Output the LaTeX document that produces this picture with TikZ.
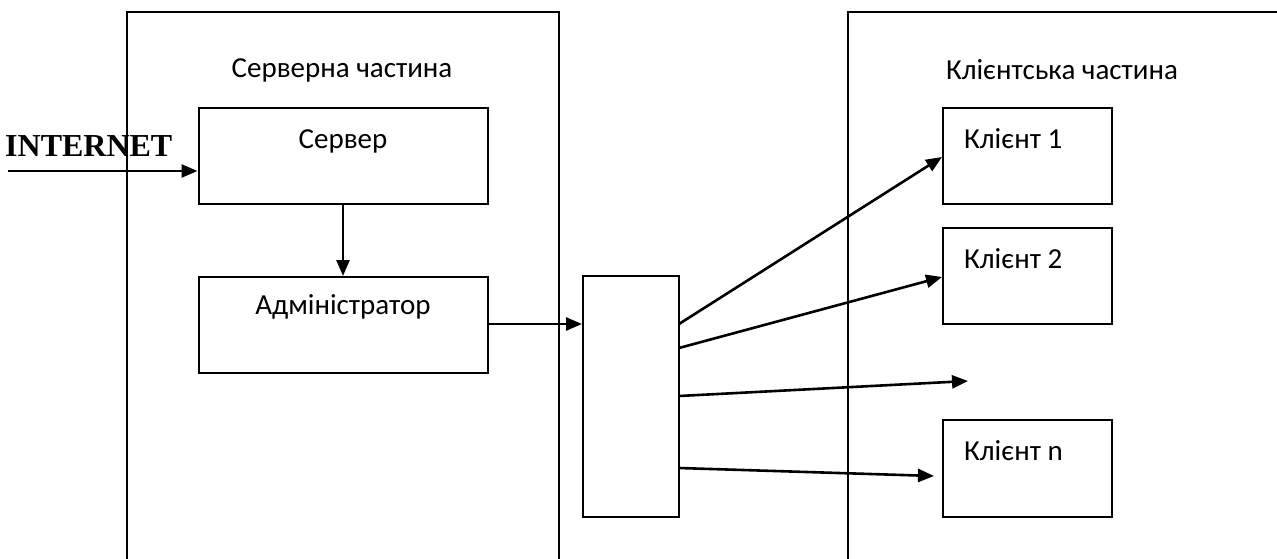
\documentclass[tikz,border=0pt]{standalone}
\usepackage{fontspec}
\setmainfont{Carlito}
\newfontfamily\timesfont{Liberation Serif}
\usetikzlibrary{arrows.meta}
\begin{document}
\begin{tikzpicture}[x=1pt,y=-1pt,
  frame/.style={line width=2pt},
  box/.style={draw,line width=2pt,rectangle,inner sep=0pt},
  lbl/.style={font=\fontsize{29}{33}\selectfont,inner sep=0pt},
  arr/.style={line width=2.6pt,-{Triangle[length=16pt,width=13pt]}}]
\useasboundingbox (0,0) rectangle (1277,559);
% outer parts
\draw[frame] (127,570) -- (127,12) -- (559,12) -- (559,570);
\draw[frame] (848,570) -- (848,12) -- (1290,12);
\node[lbl] (tserv) at (342,70) {Серверна частина};
\node[lbl] (tcli) at (1062,70) {Клієнтська частина};
% server side boxes
\node[box,minimum width=289pt,minimum height=96pt] (srv) at (343,156) {};
\node[lbl] (tsrv) at (343,141) {Сервер};
\node[box,minimum width=289pt,minimum height=96pt] (adm) at (343,325) {};
\node[lbl] (tadm) at (343,307) {Адміністратор};
% middle box
\node[box,minimum width=96pt,minimum height=241pt] (mid) at (631,396.5) {};
% client boxes
\node[box,minimum width=169pt,minimum height=96pt] (c1) at (1027.5,156) {};
\node[lbl,anchor=west] (tc1) at (964,139) {Клієнт 1};
\node[box,minimum width=169pt,minimum height=96pt] (c2) at (1027.5,276) {};
\node[lbl,anchor=west] (tc2) at (964,259) {Клієнт 2};
\node[box,minimum width=169pt,minimum height=97pt] (cn) at (1027.5,468.5) {};
\node[lbl,anchor=west] (tcn) at (964,451) {Клієнт n};
% internet
\node[font=\timesfont\bfseries\fontsize{32}{36}\selectfont,inner sep=0pt,anchor=west] (inet) at (5,146) {INTERNET};
\coordinate (istart) at (8,171);
\draw[arr] (istart) -- (srv.west |- istart);
% flows
\draw[arr] (srv.south) -- (adm.north);
\draw[arr] (adm.east |- 0,324) -- (mid.west |- 0,324);
\coordinate (m1) at (679,324);
\coordinate (m2) at (679,348);
\coordinate (m3) at (679,396);
\coordinate (m4) at (679,468);
\coordinate (free) at (968,381);
\coordinate (cnend) at (934,476);
\draw[arr] (m1) -- (c1.west |- 0,157);
\draw[arr] (m2) -- (c2.west |- 0,277);
\draw[arr] (m3) -- (free);
\draw[arr] (m4) -- (cnend);
\end{tikzpicture}
\end{document}
